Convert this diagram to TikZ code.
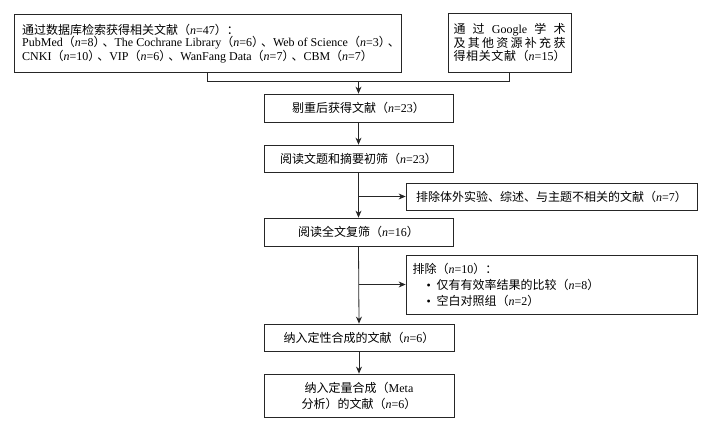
\documentclass[tikz,border=0pt]{standalone}
\usepackage{fontspec}
\setmainfont{Liberation Serif}
\newfontfamily\cjk{Noto Sans CJK SC}
\usetikzlibrary{arrows.meta}
\newcommand\zh[1]{{\cjk #1}}
\newcommand\cnt[1]{\zh{（}\textit{n}=#1\zh{）}}
\newcommand\dun{\kern-3pt\zh{、}}
\begin{document}
\begin{tikzpicture}[x=1pt,y=-1pt,
  box/.style={draw=black!85, line width=0.8pt, fill=white, inner sep=0pt,
    font=\fontsize{12}{12.5}\selectfont, align=center},
  txt/.style={inner sep=0pt, font=\fontsize{12}{12.5}\selectfont, align=left},
  arr/.style={draw=black!85, line width=0.8pt, -{Stealth[length=7pt,width=6pt]}},
  ln/.style={draw=black!85, line width=0.8pt}]
\useasboundingbox (0,0) rectangle (711,428);
\node[box, minimum width=387pt, minimum height=58pt] (b1) at (207.5,43) {};
\node[txt, anchor=west] (b1t) at (22,43.5)
 {\zh{通过数据库检索获得相关文献}\cnt{47}\zh{：}\\
  PubMed\cnt{8}\dun The Cochrane Library\cnt{6}\dun Web of Science\cnt{3}\dun\\
  CNKI\cnt{10}\dun VIP\cnt{6}\dun WanFang Data\cnt{7}\dun CBM\cnt{7}};
\node[box, minimum width=123pt, minimum height=59pt, text width=112pt] (g) at (509.5,42.5)
 {\makebox[112pt][s]{\zh{通}\hfil\zh{过}\hfil Google\hfil\zh{学}\hfil\zh{术}}\\
  \makebox[112pt][s]{\zh{及}\hfil\zh{其}\hfil\zh{他}\hfil\zh{资}\hfil\zh{源}\hfil\zh{补}\hfil\zh{充}\hfil\zh{获}}\\
  \makebox[112pt][s]{\zh{得}\hfil\zh{相}\hfil\zh{关}\hfil\zh{文}\hfil\zh{献}\hfil\cnt{15}}};
\node[box, minimum width=189pt, minimum height=28pt] (b3) at (358.5,108) {\zh{剔重后获得文献}\cnt{23}};
\node[box, minimum width=189pt, minimum height=27pt] (b4) at (358.5,158.5) {\zh{阅读文题和摘要初筛}\cnt{23}};
\node[box, minimum width=291pt, minimum height=27pt] (e1) at (551.5,196.5) {\zh{排除体外实验、综述、与主题不相关的文献}\cnt{7}};
\node[box, minimum width=189pt, minimum height=28pt] (b5) at (358.5,232) {\zh{阅读全文复筛}\cnt{16}};
\node[box, minimum width=291pt, minimum height=59pt, text width=278pt, align=left, font=\fontsize{12}{16}\selectfont] (e2) at (551.5,284.5)
 {\zh{排除}\cnt{10}\zh{：}\\
  \hspace*{14pt}\textbullet\hspace{6pt}\zh{仅有有效率结果的比较}\cnt{8}\\
  \hspace*{14pt}\textbullet\hspace{6pt}\zh{空白对照组}\cnt{2}};
\node[box, minimum width=190pt, minimum height=27pt] (b6) at (359,337.5) {\zh{纳入定性合成的文献}\cnt{6}};
\node[box, minimum width=190pt, minimum height=43pt, font=\fontsize{12}{16}\selectfont] (b7) at (359,395.5)
 {\zh{纳入定量合成（}Meta\\ \zh{分析）的文献}\cnt{6}};
\coordinate (m) at (358.5,81);
\draw[ln] (b1.south) -- (207.5,81) -| (g.south);
\draw[arr] (m) -- (b3.north);
\draw[arr] (b3.south) -- (b4.north);
\draw[arr] (b4.south) -- (b5.north);
\coordinate (j1) at (b4.south |- e1.west);
\draw[arr] (j1) -- (e1.west);
\draw[arr] (b5.south) -- (b6.north);
\coordinate (j2) at (b5.south |- e2.west);
\draw[arr] (j2) -- (e2.west);
\draw[arr] (b6.south) -- (b7.north);
\end{tikzpicture}
\end{document}
